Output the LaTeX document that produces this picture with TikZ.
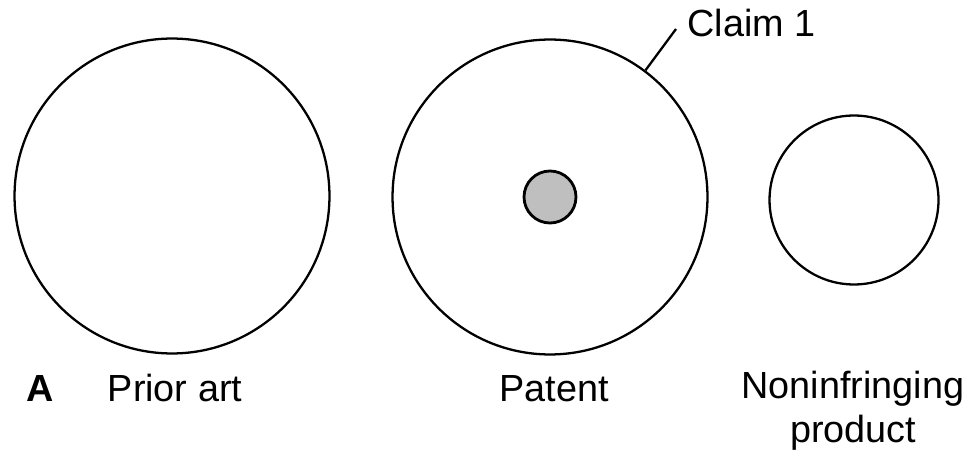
\documentclass[tikz,border=0pt]{standalone}
\usepackage{fontspec}
\setsansfont{Liberation Sans}
\usepackage{tikz}
\usetikzlibrary{positioning}
\tikzset{
  scopecircle/.style={
    circle, draw=black, line width=1.3pt, inner sep=0pt
  },
  coredot/.style={
    circle, draw=black, fill=gray!50, line width=1.6pt,
    inner sep=0pt, minimum size=1.04cm
  },
  circlabel/.style={
    font=\sffamily\fontsize{21.5}{24.5}\selectfont, anchor=base,
    align=center, inner sep=0pt
  },
  leader/.style={line width=1.3pt, draw=black},
}
\begin{document}
\begin{tikzpicture}[x=0.02cm, y=0.02cm]
  \useasboundingbox (0,0) rectangle (972,460);
  \node (prior) [scopecircle, minimum size=6.3cm] at (172,264) {};
  \node (patent) [scopecircle, minimum size=6.3cm] at (550,263) {};
  \node (core) [coredot] at (patent.center) {};
  \node (product) [scopecircle, minimum size=3.38cm] at (854,260) {};
  \coordinate (claimtip) at (676,431);
  \node (claimlbl) [circlabel, anchor=base west] at (687,423) {Claim 1};
  \draw[leader] (patent.53)--(claimtip);
  \node (figtag) [circlabel, font=\sffamily\bfseries\fontsize{21.5}{24.5}\selectfont] at (40,59) {A};
  \node (priorlbl) [circlabel] at (175,59) {Prior art};
  \node (patentlbl) [circlabel] at (554,59) {Patent};
  \node (productlbl) [circlabel] at (853,18) {Noninfringing\\product};
\end{tikzpicture}
\end{document}
